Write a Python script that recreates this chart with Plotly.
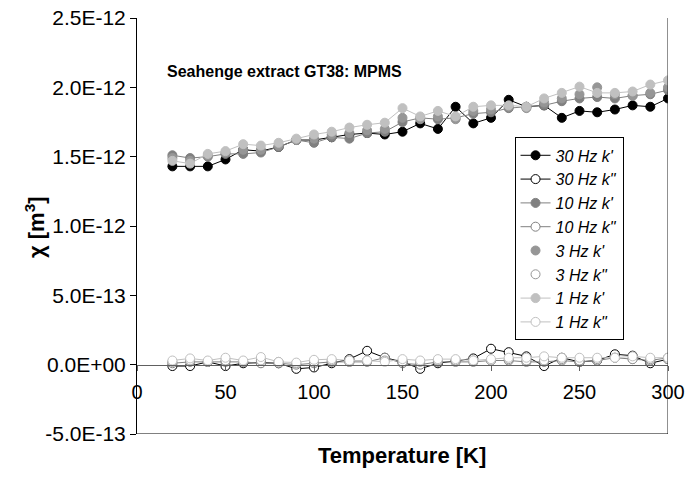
import plotly.graph_objects as go

temperature = list(range(20, 301, 10))

hz30_kp = [1.43, 1.43, 1.43, 1.48, 1.55, 1.54, 1.57, 1.62, 1.62, 1.64, 1.66, 1.67, 1.66, 1.68, 1.74,
           1.70, 1.86, 1.74, 1.78, 1.91, 1.86, 1.87, 1.78, 1.83, 1.82, 1.84, 1.87, 1.86, 1.92]
hz30_kpp = [-0.01, -0.01, 0.02, -0.01, 0.01, 0.015, 0.01, -0.03, -0.02, 0.01, 0.04, 0.10, 0.05, 0.02, -0.03,
            0.01, 0.03, 0.045, 0.115, 0.09, 0.06, -0.01, 0.05, 0.02, 0.03, 0.075, 0.065, 0.01, 0.04]
hz10_kp = [1.51, 1.49, 1.50, 1.52, 1.52, 1.53, 1.57, 1.62, 1.60, 1.64, 1.63, 1.67, 1.68, 1.75, 1.78,
           1.77, 1.78, 1.81, 1.82, 1.85, 1.86, 1.87, 1.90, 1.92, 1.93, 1.92, 1.94, 1.95, 1.98]
hz10_kpp = [0.01, 0.02, 0.02, 0.02, 0.02, 0.01, 0.01, 0.0, 0.01, 0.02, 0.02, 0.02, 0.05, 0.01, 0.0,
            0.02, 0.02, 0.02, 0.03, 0.03, 0.02, 0.02, 0.03, 0.02, 0.03, 0.05, 0.04, 0.03, 0.05]
hz3_kp = [1.49, 1.47, 1.51, 1.53, 1.55, 1.55, 1.58, 1.62, 1.63, 1.66, 1.67, 1.69, 1.70, 1.78, 1.77,
          1.79, 1.77, 1.83, 1.84, 1.86, 1.85, 1.89, 1.92, 1.95, 2.00, 1.95, 1.94, 1.96, 2.00]
hz3_kpp = [0.02, 0.03, 0.02, 0.03, 0.02, 0.03, 0.02, 0.01, 0.02, 0.03, 0.02, 0.03, 0.03, 0.02, 0.02,
           0.03, 0.03, 0.03, 0.03, 0.04, 0.03, 0.03, 0.04, 0.03, 0.04, 0.05, 0.04, 0.04, 0.04]
hz1_kp = [1.47, 1.45, 1.52, 1.54, 1.59, 1.58, 1.60, 1.63, 1.66, 1.68, 1.71, 1.73, 1.745, 1.85, 1.79,
          1.83, 1.79, 1.86, 1.87, 1.87, 1.86, 1.92, 1.96, 2.005, 1.96, 1.96, 1.97, 2.02, 2.05]
hz1_kpp = [0.03, 0.045, 0.03, 0.05, 0.03, 0.055, 0.02, 0.015, 0.035, 0.04, 0.03, 0.03, 0.02, 0.04, 0.03,
           0.04, 0.04, 0.03, 0.04, 0.05, 0.05, 0.06, 0.05, 0.05, 0.05, 0.05, 0.06, 0.05, 0.05]

series = [
    ("30 Hz k'", hz30_kp, "#000000", True, True),
    ('30 Hz k"', hz30_kpp, "#000000", False, True),
    ("10 Hz k'", hz10_kp, "#808080", True, True),
    ('10 Hz k"', hz10_kpp, "#808080", False, True),
    ("3 Hz k'", hz3_kp, "#969696", True, False),
    ('3 Hz k"', hz3_kpp, "#969696", False, False),
    ("1 Hz k'", hz1_kp, "#C0C0C0", True, True),
    ('1 Hz k"', hz1_kpp, "#C0C0C0", False, True),
]

yticks = [-0.5, 0.0, 0.5, 1.0, 1.5, 2.0, 2.5]
yticktext = ["-5.0E-13", "0.0E+00", "5.0E-13", "1.0E-12", "1.5E-12", "2.0E-12", "2.5E-12"]
xticks = [0, 50, 100, 150, 200, 250, 300]

FONT = "Arial, Liberation Sans, sans-serif"

fig = go.Figure()
for name, vals, color, filled, lines in series:
    fig.add_trace(go.Scatter(
        x=temperature, y=vals, name=name,
        mode="lines+markers" if lines else "markers",
        line=dict(color=color, width=1),
        marker=dict(size=9, symbol="circle",
                    color=color if filled else "white",
                    line=dict(color=color, width=1)),
    ))

fig.add_shape(type="line", xref="x", yref="y", x0=300, x1=300, y0=-0.5, y1=2.5,
              line=dict(color="#202020", width=1))
fig.add_shape(type="line", xref="x", yref="y", x0=0, x1=300, y0=-0.5, y1=-0.5,
              line=dict(color="#000000", width=1))

fig.update_layout(
    width=685, height=482,
    margin=dict(l=137, r=17, t=18, b=48),
    paper_bgcolor="white", plot_bgcolor="white",
    font=dict(family=FONT, size=21, color="black"),
    showlegend=True,
    legend=dict(x=0.711, y=0.713, xanchor="left", yanchor="top",
                bgcolor="white", bordercolor="#000000", borderwidth=1,
                font=dict(family=FONT, size=16, style="italic"),
                tracegroupgap=0),
    xaxis=dict(range=[0, 300], tickvals=xticks, ticktext=[str(v) for v in xticks],
               anchor="free", position=1/6, showgrid=False, zeroline=False,
               showline=True, linecolor="#606060", linewidth=1,
               ticks="outside", ticklen=5, tickcolor="#606060",
               ticklabelstandoff=4, tickfont=dict(size=20), automargin=False,
               ticklabeloverflow="allow"),
    yaxis=dict(range=[-0.5, 2.5], tickvals=yticks, ticktext=yticktext,
               showgrid=False, zeroline=False, showline=True, linecolor="black",
               linewidth=1, ticks="outside", ticklen=6, tickcolor="black",
               tickfont=dict(size=21), automargin=False),
    annotations=[
        dict(text="<b>Seahenge extract GT38: MPMS</b>", xref="paper", yref="paper",
             x=(165-137)/531, y=(434-71)/416, xanchor="left", yanchor="middle",
             showarrow=False, font=dict(size=16)),
        dict(text="<b>Temperature [K]</b>", xref="paper", yref="paper",
             x=(402-137)/531, y=-(455-434)/416, xanchor="center", yanchor="middle",
             showarrow=False, font=dict(size=22)),
        dict(text="<b>χ [m<sup>3</sup>]</b>", xref="paper", yref="paper",
             x=-(137-35)/531, y=(434-227)/416, xanchor="center", yanchor="middle",
             textangle=-90, showarrow=False, font=dict(size=22)),
    ],
)

fig.write_html("out.html")
